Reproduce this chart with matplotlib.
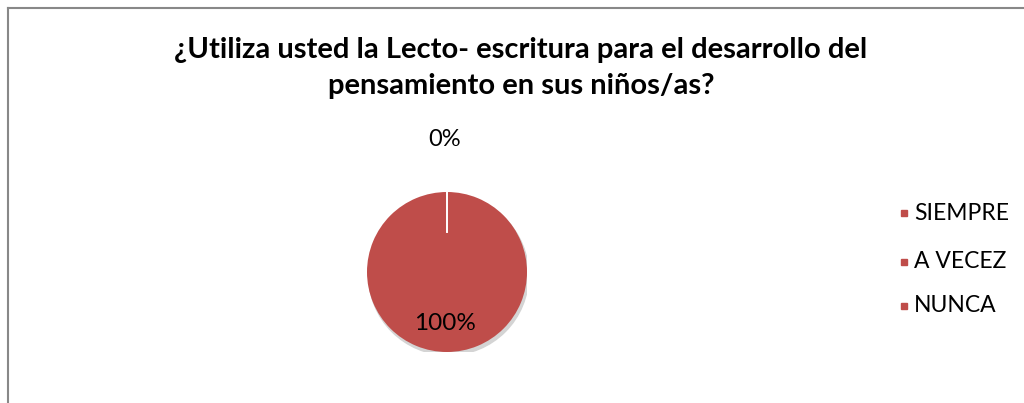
import matplotlib
matplotlib.use("Agg")
from matplotlib import pyplot as plt
from matplotlib.patches import Circle
import numpy as np

categories = ["SIEMPRE", "A VECEZ", "NUNCA"]
values = [100, 0, 0]
title = "¿Utiliza usted la Lecto- escritura para el desarrollo del\npensamiento en sus niños/as?"

plt.rcParams['font.family'] = ['Lato', 'DejaVu Sans']
W, H = 1024, 403
fig = plt.figure(figsize=(W / 100, H / 100), dpi=100)

# frame lines (top and left)
fig.add_artist(plt.Line2D([8 / W, 1], [1 - 8 / H, 1 - 8 / H], color="#888888", lw=1.5))
fig.add_artist(plt.Line2D([8 / W, 8 / W], [0, 1 - 8 / H], color="#888888", lw=1.5))

fig.text(521 / W, 1 - 68 / H, title, ha="center", va="center", fontsize=21,
         fontweight="bold", linespacing=1.45)

# pie
cx, cy, r = 447, 272, 80
ax = fig.add_axes([(cx - r) / W, (H - cy - r) / H, 2 * r / W, 2 * r / H])
ax.add_patch(Circle((0.02, -0.04), 1.0, color="#d4d4d4", zorder=0))
wedges, _ = ax.pie(values, startangle=90, counterclock=False, radius=1.0,
                   colors=["#bf4d4a"] * 3, wedgeprops=dict(linewidth=0))
ax.set_xlim(-1.0, 1.0)
ax.set_ylim(-1.0, 1.0)
ax.set_aspect("equal")
ax.axis("off")

# data labels + slice boundary
total = sum(values)
start = 90
zero_done = False
for v in values:
    ang = np.deg2rad(start - 360 * v / total / 2)
    b = np.deg2rad(start)
    ax.plot([0.5 * np.cos(b), np.cos(b)], [0.5 * np.sin(b), np.sin(b)],
            color="white", lw=1.2, alpha=0.9)
    start -= 360 * v / total
    if v > 0:
        ax.text(0.7 * np.cos(ang) - 0.03, 0.65 * np.sin(ang), f"{v / total:.0%}",
                ha="center", va="center", fontsize=17.5)
    elif not zero_done:
        ax.text(-0.03, 1.65, f"{v / total:.0%}", ha="center", va="center", fontsize=17)
        zero_done = True

# legend
rows = [213, 262, 306]
for name, y in zip(categories, rows):
    fig.patches.append(plt.Rectangle((901 / W, 1 - (y + 3) / H), 6 / W, 6 / H,
                                     transform=fig.transFigure, color="#bf4d4a"))
    fig.text(914 / W, 1 - y / H, name, ha="left", va="center", fontsize=16.5)

plt.savefig("out.png", dpi=100)
